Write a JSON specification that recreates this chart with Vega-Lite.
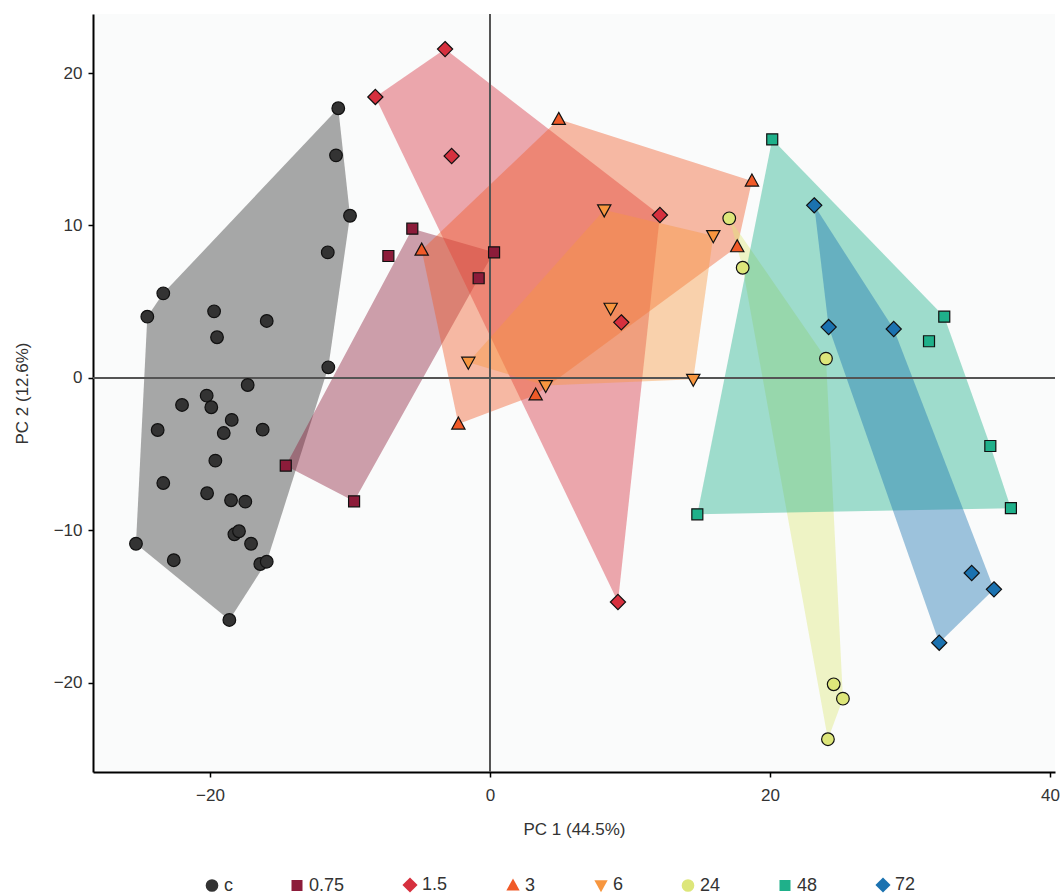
{
  "$schema": "https://vega.github.io/schema/vega-lite/v6.json",
  "width": 962,
  "height": 758,
  "autosize": "none",
  "padding": {"left": 93, "top": 14, "right": 8, "bottom": 123},
  "background": "#ffffff",
  "config": {
    "view": {"fill": "#fafbfb", "stroke": null},
    "font": "Liberation Sans",
    "axis": {
      "grid": false,
      "domainColor": "#000000",
      "domainWidth": 2,
      "tickColor": "#000000",
      "tickWidth": 1.5,
      "tickSize": 5,
      "labelFont": "Liberation Sans",
      "labelFontSize": 17,
      "labelColor": "#333333",
      "titleFont": "Liberation Sans",
      "titleFontSize": 17,
      "titleFontWeight": "normal",
      "titleColor": "#333333"
    },
    "legend": {"labelFont": "Liberation Sans", "labelFontSize": 18, "labelColor": "#333333"}
  },
  "data": {
    "values": [
      {"group": "c", "pc1": -10.84, "pc2": 17.69, "hull": 1},
      {"group": "c", "pc1": -11.0, "pc2": 14.6, "hull": null},
      {"group": "c", "pc1": -10.0, "pc2": 10.64, "hull": 2},
      {"group": "c", "pc1": -11.59, "pc2": 8.24, "hull": null},
      {"group": "c", "pc1": -23.34, "pc2": 5.55, "hull": 8},
      {"group": "c", "pc1": -24.48, "pc2": 4.02, "hull": 7},
      {"group": "c", "pc1": -19.71, "pc2": 4.37, "hull": null},
      {"group": "c", "pc1": -15.95, "pc2": 3.74, "hull": null},
      {"group": "c", "pc1": -19.5, "pc2": 2.67, "hull": null},
      {"group": "c", "pc1": -11.55, "pc2": 0.7, "hull": 3},
      {"group": "c", "pc1": -17.31, "pc2": -0.46, "hull": null},
      {"group": "c", "pc1": -20.24, "pc2": -1.16, "hull": null},
      {"group": "c", "pc1": -22.0, "pc2": -1.77, "hull": null},
      {"group": "c", "pc1": -19.91, "pc2": -1.92, "hull": null},
      {"group": "c", "pc1": -18.45, "pc2": -2.75, "hull": null},
      {"group": "c", "pc1": -23.74, "pc2": -3.41, "hull": null},
      {"group": "c", "pc1": -19.02, "pc2": -3.61, "hull": null},
      {"group": "c", "pc1": -16.24, "pc2": -3.39, "hull": null},
      {"group": "c", "pc1": -19.62, "pc2": -5.42, "hull": null},
      {"group": "c", "pc1": -23.34, "pc2": -6.89, "hull": null},
      {"group": "c", "pc1": -20.21, "pc2": -7.56, "hull": null},
      {"group": "c", "pc1": -18.5, "pc2": -8.02, "hull": null},
      {"group": "c", "pc1": -17.48, "pc2": -8.11, "hull": null},
      {"group": "c", "pc1": -18.26, "pc2": -10.25, "hull": null},
      {"group": "c", "pc1": -17.93, "pc2": -10.05, "hull": null},
      {"group": "c", "pc1": -17.07, "pc2": -10.87, "hull": null},
      {"group": "c", "pc1": -25.29, "pc2": -10.87, "hull": 6},
      {"group": "c", "pc1": -22.59, "pc2": -11.95, "hull": null},
      {"group": "c", "pc1": -16.41, "pc2": -12.2, "hull": null},
      {"group": "c", "pc1": -15.95, "pc2": -12.05, "hull": 4},
      {"group": "c", "pc1": -18.62, "pc2": -15.87, "hull": 5},
      {"group": "0.75", "pc1": -5.55, "pc2": 9.79, "hull": 1},
      {"group": "0.75", "pc1": 0.29, "pc2": 8.24, "hull": 2},
      {"group": "0.75", "pc1": -0.81, "pc2": 6.54, "hull": 3},
      {"group": "0.75", "pc1": -9.71, "pc2": -8.09, "hull": 4},
      {"group": "0.75", "pc1": -14.59, "pc2": -5.75, "hull": 5},
      {"group": "0.75", "pc1": -7.26, "pc2": 8.0, "hull": null},
      {"group": "1.5", "pc1": -3.21, "pc2": 21.57, "hull": 1},
      {"group": "1.5", "pc1": 12.14, "pc2": 10.69, "hull": 2},
      {"group": "1.5", "pc1": 9.14, "pc2": -14.69, "hull": 3},
      {"group": "1.5", "pc1": -8.19, "pc2": 18.43, "hull": 4},
      {"group": "1.5", "pc1": -2.74, "pc2": 14.56, "hull": null},
      {"group": "1.5", "pc1": 9.38, "pc2": 3.65, "hull": null},
      {"group": "3", "pc1": 4.91, "pc2": 16.96, "hull": 1},
      {"group": "3", "pc1": 18.71, "pc2": 12.92, "hull": 2},
      {"group": "3", "pc1": 17.66, "pc2": 8.61, "hull": 3},
      {"group": "3", "pc1": 3.26, "pc2": -1.11, "hull": 4},
      {"group": "3", "pc1": -2.26, "pc2": -3.02, "hull": 5},
      {"group": "3", "pc1": -4.88, "pc2": 8.39, "hull": 6},
      {"group": "6", "pc1": 8.16, "pc2": 11.02, "hull": 1},
      {"group": "6", "pc1": 15.95, "pc2": 9.33, "hull": 2},
      {"group": "6", "pc1": 14.52, "pc2": -0.09, "hull": 3},
      {"group": "6", "pc1": 3.98, "pc2": -0.5, "hull": 4},
      {"group": "6", "pc1": -1.55, "pc2": 1.03, "hull": 5},
      {"group": "6", "pc1": 8.62, "pc2": 4.57, "hull": null},
      {"group": "24", "pc1": 17.09, "pc2": 10.47, "hull": 1},
      {"group": "24", "pc1": 24.0, "pc2": 1.27, "hull": 2},
      {"group": "24", "pc1": 25.21, "pc2": -21.03, "hull": 3},
      {"group": "24", "pc1": 24.14, "pc2": -23.69, "hull": 4},
      {"group": "24", "pc1": 18.05, "pc2": 7.23, "hull": 5},
      {"group": "24", "pc1": 24.55, "pc2": -20.09, "hull": null},
      {"group": "48", "pc1": 20.16, "pc2": 15.65, "hull": 1},
      {"group": "48", "pc1": 32.45, "pc2": 4.02, "hull": 2},
      {"group": "48", "pc1": 35.74, "pc2": -4.46, "hull": 3},
      {"group": "48", "pc1": 37.21, "pc2": -8.54, "hull": 4},
      {"group": "48", "pc1": 14.81, "pc2": -8.94, "hull": 5},
      {"group": "48", "pc1": 31.36, "pc2": 2.41, "hull": null},
      {"group": "72", "pc1": 23.16, "pc2": 11.32, "hull": 1},
      {"group": "72", "pc1": 28.84, "pc2": 3.21, "hull": 2},
      {"group": "72", "pc1": 36.0, "pc2": -13.86, "hull": 3},
      {"group": "72", "pc1": 32.09, "pc2": -17.36, "hull": 4},
      {"group": "72", "pc1": 24.19, "pc2": 3.34, "hull": 5},
      {"group": "72", "pc1": 34.41, "pc2": -12.79, "hull": null}
    ]
  },
  "resolve": {"scale": {"fill": "independent", "shape": "independent"}},
  "layer": [
    {
      "transform": [{"filter": "datum.hull != null"}],
      "mark": {"type": "line", "filled": true, "fillOpacity": 0.42, "strokeWidth": 0, "interpolate": "linear-closed"},
      "encoding": {
        "x": {"field": "pc1", "type": "quantitative", "scale": {"domain": [-28.36, 40.36], "nice": false, "zero": false},
              "axis": {"values": [-20, 0, 20, 40], "title": "PC 1 (44.5%)", "labelPadding": 10, "titlePadding": 18}},
        "y": {"field": "pc2", "type": "quantitative", "scale": {"domain": [-25.84, 23.87], "nice": false, "zero": false},
              "axis": {"values": [-20, -10, 0, 10, 20], "title": "PC 2 (12.6%)", "labelPadding": 6, "titlePadding": 22}},
        "order": {"field": "hull", "type": "quantitative"},
        "detail": {"field": "group"},
        "fill": {"field": "group", "type": "nominal", "legend": null,
                 "scale": {"domain": ["c", "0.75", "1.5", "3", "6", "24", "48", "72"],
                           "range": ["#333333", "#8c1c3a", "#d6303e", "#f05a28", "#f7963f", "#dde67a", "#1fb08a", "#1b72b0"]}}
      }
    },
    {
      "mark": {"type": "rule", "color": "#555555", "strokeWidth": 1.5},
      "encoding": {"x": {"datum": 0}}
    },
    {
      "mark": {"type": "rule", "color": "#555555", "strokeWidth": 1.5},
      "encoding": {"y": {"datum": 0}}
    },
    {
      "mark": {"type": "point", "filled": true, "opacity": 1, "stroke": "#111111", "strokeWidth": 1.2, "size": 160},
      "encoding": {
        "x": {"field": "pc1", "type": "quantitative"},
        "y": {"field": "pc2", "type": "quantitative"},
        "fill": {"field": "group", "type": "nominal",
                 "scale": {"domain": ["c", "0.75", "1.5", "3", "6", "24", "48", "72"],
                           "range": ["#333333", "#8c1c3a", "#d6303e", "#f05a28", "#f7963f", "#dde67a", "#1fb08a", "#1b72b0"]},
                 "legend": {"title": null, "orient": "none", "direction": "horizontal", "columns": 8, "legendX": 110, "legendY": 862, "columnPadding": 55, "symbolSize": 160, "symbolStrokeColor": "#111111", "symbolStrokeWidth": 1.2, "labelOffset": 3}},
        "shape": {"field": "group", "type": "nominal",
                  "scale": {"domain": ["c", "0.75", "1.5", "3", "6", "24", "48", "72"],
                            "range": ["circle", "M-0.87,-0.87H0.87V0.87H-0.87Z", "M0,-1.2L1.2,0L0,1.2L-1.2,0Z", "M0,-1.1L1.05,0.8L-1.05,0.8Z", "M0,1.1L1.05,-0.8L-1.05,-0.8Z", "circle", "M-0.87,-0.87H0.87V0.87H-0.87Z", "M0,-1.2L1.2,0L0,1.2L-1.2,0Z"]},
                  "legend": {"title": null, "orient": "none", "direction": "horizontal", "columns": 8, "legendX": 110, "legendY": 862, "columnPadding": 55, "symbolSize": 160, "symbolStrokeColor": "#111111", "symbolStrokeWidth": 1.2, "labelOffset": 3}}
      }
    }
  ]
}
